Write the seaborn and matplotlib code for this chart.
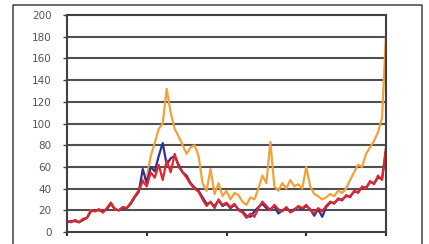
import matplotlib
matplotlib.use("Agg")
import matplotlib.pyplot as plt
from matplotlib.lines import Line2D
import seaborn as sns
import pandas as pd

# one value every ~4 px along the x axis
red = [10, 9, 11, 9, 12, 13, 20, 19, 21, 18, 22, 27, 21, 20, 23, 22, 27, 33, 38, 47,
       42, 55, 50, 62, 48, 66, 55, 72, 60, 55, 50, 44, 40, 37, 30, 24, 28, 22, 30, 25,
       27, 23, 26, 20, 18, 13, 17, 14, 22, 28, 24, 20, 25, 21, 19, 23, 18, 20, 24, 22,
       25, 20, 17, 22, 19, 24, 28, 26, 31, 29, 34, 32, 38, 36, 42, 40, 47, 44, 52, 48, 78]
blue = [9, 10, 10, 9, 11, 13, 19, 20, 20, 19, 21, 26, 21, 20, 22, 22, 26, 32, 37, 58,
        45, 60, 56, 70, 82, 62, 68, 70, 62, 55, 52, 45, 41, 38, 32, 26, 27, 24, 29, 24,
        26, 22, 25, 21, 19, 15, 14, 19, 23, 26, 22, 21, 24, 17, 20, 22, 19, 21, 23, 21,
        24, 21, 15, 21, 14, 23, 27, 27, 30, 30, 33, 33, 37, 37, 41, 41, 46, 45, 50, 49, 75]
orange = [10, 9, 11, 9, 12, 13, 20, 19, 21, 18, 22, 27, 21, 20, 23, 22, 27, 33, 38, 48,
          50, 70, 82, 95, 100, 132, 110, 95, 88, 80, 72, 78, 80, 70, 45, 38, 58, 35, 45, 33,
          38, 30, 36, 34, 28, 25, 32, 30, 40, 52, 45, 83, 42, 38, 45, 40, 48, 42, 44, 40,
          60, 42, 35, 33, 30, 32, 35, 33, 38, 36, 40, 48, 55, 62, 60, 72, 78, 84, 92, 105, 182]
yticks = [0, 20, 40, 60, 80, 100, 120, 140, 160, 180, 200]

df = pd.DataFrame({"t": range(len(red)), "orange": orange, "blue": blue, "red": red})

fig, ax = plt.subplots(figsize=(4.29, 2.44), dpi=100)
fig.subplots_adjust(left=67 / 429, right=386 / 429, bottom=12 / 244, top=229 / 244)

for v in yticks[1:-1]:
    ax.axhline(v, color="#505050", lw=1.5, zorder=0)

for col, c in [("orange", "#F2A23A"), ("blue", "#2E3192"), ("red", "#E3262B")]:
    sns.lineplot(data=df, x="t", y=col, color=c, lw=1.6, ax=ax, zorder=2)

ax.set_xlim(0, 80)
ax.set_ylim(0, 200)
ax.set_yticks(yticks)
ax.set_yticklabels([str(v) for v in yticks], fontsize=7.5, color="#555555")
ax.set_xticks([0, 20, 40, 60, 80])
ax.set_xticklabels([])
ax.set_xlabel("")
ax.set_ylabel("")
ax.tick_params(axis="y", length=3, width=1, pad=8, color="#404040")
ax.tick_params(axis="x", length=3, width=1.5, direction="out", color="#303030")
for s in ax.spines.values():
    s.set_color("#404040")
    s.set_linewidth(1.5)

# outer chart frame: left, top, right edges (bottom is cut off in the picture)
fx0, fx1, fy = 12.5 / 429, 421.5 / 429, 1 - 4.5 / 244
fig.add_artist(Line2D([fx0, fx0, fx1, fx1], [0, fy, fy, 0],
                      transform=fig.transFigure, color="#505050", lw=1.2))

fig.savefig("out.png", dpi=100)
